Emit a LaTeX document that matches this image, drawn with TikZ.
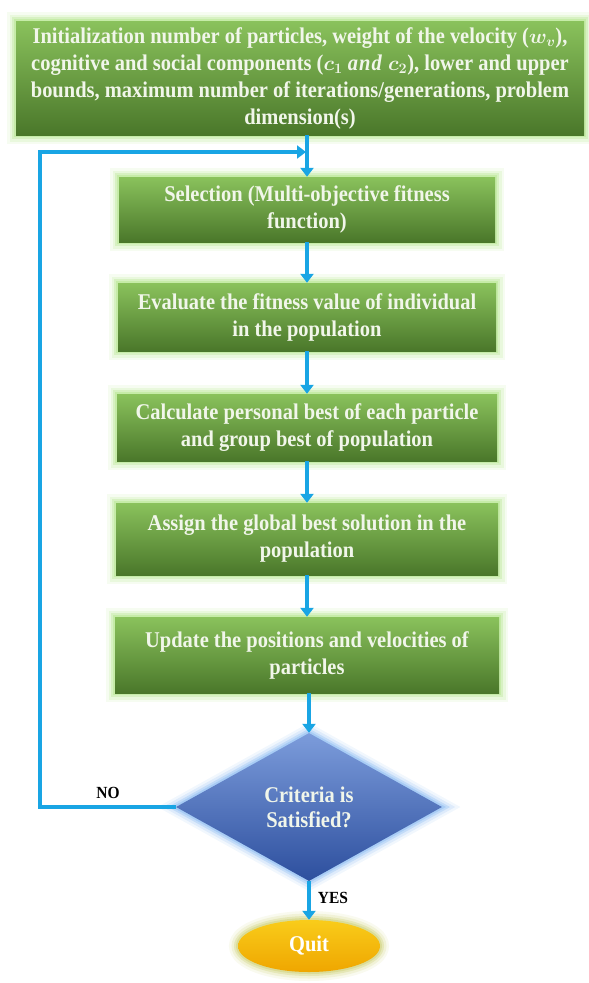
\documentclass[tikz,border=0pt]{standalone}
\usepackage{fontspec}
\setmainfont{Liberation Serif}[FakeStretch=0.91]
\usetikzlibrary{shapes.geometric,arrows.meta}
\definecolor{gtop}{HTML}{8AC25C}
\definecolor{gbot}{HTML}{4A772A}
\definecolor{gglow}{HTML}{B5E68E}
\definecolor{gtext}{HTML}{F1F6EA}
\definecolor{dtop}{HTML}{7C9CDB}
\definecolor{dbot}{HTML}{2D4F9E}
\definecolor{dglow}{HTML}{8FBDF2}
\definecolor{qtop}{HTML}{F9CC1A}
\definecolor{qbot}{HTML}{EFA600}
\definecolor{qglow}{HTML}{CFD27A}
\definecolor{arr}{HTML}{19A5E4}
\tikzset{
  glowing/.style={preaction={draw=#1, line width=18pt, opacity=0.12},
                  preaction={draw=#1, line width=13pt, opacity=0.2},
                  preaction={draw=#1, line width=8pt, opacity=0.35},
                  preaction={draw=#1, line width=4pt, opacity=0.5}},
  gbox/.style={rectangle, top color=gtop, bottom color=gbot, text=gtext,
    font=\bfseries\fontsize{22.5}{27}\selectfont, align=center, inner sep=0pt,
    glowing=gglow},
  decision/.style={diamond, top color=dtop, bottom color=dbot, text=gtext,
    font=\bfseries\fontsize{22.5}{25}\selectfont, align=center, inner sep=0pt,
    glowing=dglow},
  endnode/.style={ellipse, top color=qtop, bottom color=qbot, text=white,
    font=\bfseries\fontsize{22.5}{25}\selectfont, inner sep=0pt, glowing=qglow},
  flow/.style={draw=arr, line width=3.5pt, -{Triangle[length=9pt,width=13pt]}},
  lbl/.style={font=\bfseries\fontsize{17}{18}\selectfont, text=black}
}
\begin{document}
\begin{tikzpicture}[x=1pt,y=-1pt]
\useasboundingbox (0,0) rectangle (589,983);
\node[gbox, minimum width=568, minimum height=114] (init) at (300,78)
 {Initialization number of particles, weight of the velocity ({\boldmath$w_v$}),\\
  cognitive and social components ({\boldmath$c_1\ \mathit{and}\ c_2$}), lower and upper\\
  bounds, maximum number of iterations/generations, problem\\
  dimension(s)};
\node[gbox, minimum width=376, minimum height=65] (b1) at (307,209.5)
 {Selection (Multi-objective fitness\\ function)};
\node[gbox, minimum width=378, minimum height=68] (b2) at (307,317)
 {Evaluate the fitness value of individual\\ in the population};
\node[gbox, minimum width=380, minimum height=67] (b3) at (307,427.5)
 {Calculate personal best of each particle\\ and group best of population};
\node[gbox, minimum width=382, minimum height=72] (b4) at (307,539)
 {Assign the global best solution in the\\ population};
\node[gbox, minimum width=384, minimum height=76] (b5) at (307,655)
 {Update the positions and velocities of\\ particles};
\node[decision, minimum width=266, minimum height=148] (dia) at (309,807)
 {Criteria is\\ Satisfied?};
\node[endnode, minimum width=142, minimum height=52] (quit) at (309,946) {Quit};
\coordinate (lc) at (40,152);
\coordinate (join) at (306,152);
\draw[flow] (b1.north |- init.south) -- (b1.north);
\draw[flow] (b1) -- (b2);
\draw[flow] (b2) -- (b3);
\draw[flow] (b3) -- (b4);
\draw[flow] (b4) -- (b5);
\draw[flow] (b5.south -| dia.north) -- (dia.north);
\draw[flow] (dia.south) -- (quit.north);
\draw[flow] (dia.west) -- (dia.west -| lc) |- (join);
\node[lbl] (no) at (108,793) {NO};
\node[lbl] (yes) at (333,898) {YES};
\end{tikzpicture}
\end{document}
